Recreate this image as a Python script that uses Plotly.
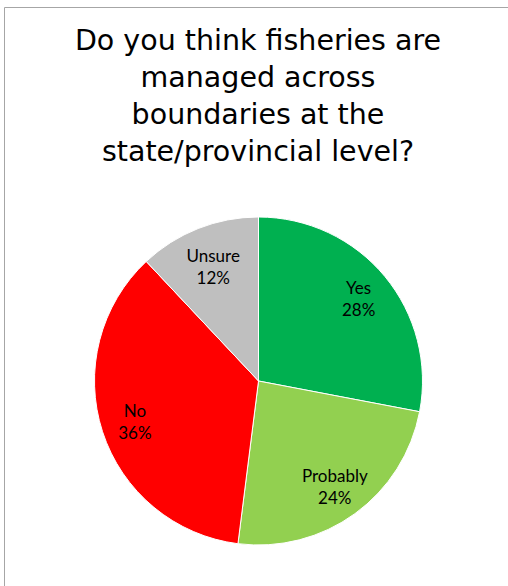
import plotly.graph_objects as go

labels = ["Yes", "Probably", "No", "Unsure"]
values = [28, 24, 36, 12]
colors = ["#00B050", "#92D050", "#FF0000", "#BFBFBF"]
title_text = "Do you think fisheries are<br>managed across<br>boundaries at the<br>state/provincial level?"

W, H = 508, 586
cx, cy, r = 258.5, 381, 164
dom = dict(x=[(cx - r) / W, (cx + r) / W], y=[(H - cy - r) / H, (H - cy + r) / H])
r2 = 200  # larger transparent ring used only to place labels toward the rim
dom2 = dict(x=[(cx - r2) / W, (cx + r2) / W], y=[(H - cy - r2) / H, (H - cy + r2) / H])

total = sum(values)
label_text = [f"{l}<br>{v / total * 100:.0f}%" for l, v in zip(labels, values)]
narrow = [v / total < 0.15 for v in values]  # narrow slices get their label from the tighter ring
text_wide = ["" if n else t for t, n in zip(label_text, narrow)]
text_narrow = [t if n else "" for t, n in zip(label_text, narrow)]
clear = ["rgba(0,0,0,0)"] * len(values)
lab_font = dict(family="Lato, Open Sans, sans-serif", size=17, color="black")

fig = go.Figure()
fig.add_trace(go.Pie(
    labels=labels, values=values,
    marker=dict(colors=colors, line=dict(color="white", width=1)),
    sort=False, direction="clockwise", rotation=0,
    textinfo="none", domain=dom, showlegend=False,
    hoverinfo="label+percent",
))
fig.add_trace(go.Pie(
    labels=labels, values=values, hole=0.30, text=text_wide, textinfo="text",
    marker=dict(colors=clear, line=dict(width=0)),
    sort=False, direction="clockwise", rotation=0,
    textposition="inside", insidetextorientation="horizontal", textfont=lab_font,
    domain=dom2, showlegend=False, hoverinfo="skip",
))
fig.add_trace(go.Pie(
    labels=labels, values=values, hole=0.50, text=text_narrow, textinfo="text",
    marker=dict(colors=clear, line=dict(width=0)),
    sort=False, direction="clockwise", rotation=0,
    textposition="inside", insidetextorientation="horizontal", textfont=lab_font,
    domain=dom, showlegend=False, hoverinfo="skip",
))

fig.update_layout(
    width=W, height=H,
    margin=dict(l=0, r=0, t=0, b=0),
    paper_bgcolor="white",
    title=dict(text=title_text, x=258 / W, xanchor="center", y=1 - 50 / H, yanchor="top",
               font=dict(family="DejaVu Sans, Liberation Sans, Arial, sans-serif", size=28.5, color="black")),
    shapes=[dict(type="rect", xref="paper", yref="paper", x0=4.5 / W, x1=1.05, y0=-0.05, y1=1 - 7.5 / H,
                 line=dict(color="#A6A6A6", width=1), fillcolor="rgba(0,0,0,0)", layer="below")],
)

fig.write_html("out.html", post_script="document.body.style.margin='0';",
               config={"displayModeBar": False})
